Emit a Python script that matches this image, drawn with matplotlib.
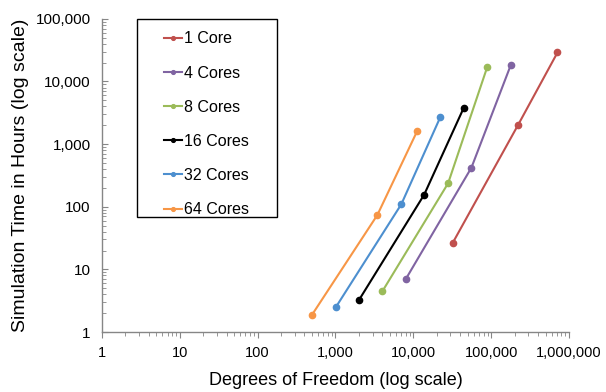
import numpy as np
import matplotlib.pyplot as plt
from matplotlib.patches import Rectangle
from matplotlib.ticker import FuncFormatter, LogLocator

plt.rcParams['font.family'] = ['Liberation Sans', 'DejaVu Sans']

# data (degrees of freedom, hours)
labels = ['1 Core', '4 Cores', '8 Cores', '16 Cores', '32 Cores', '64 Cores']
colors = ['#C0504D', '#8064A2', '#9BBB59', '#000000', '#4D8FCF', '#F79646']

dof_1 = [32200, 222000, 711000]
hrs_1 = [26.7, 2030, 29000]
dof_4 = [8010, 55800, 179000]
hrs_4 = [7.0, 421, 18400]
dof_8 = [4010, 28000, 88900]
hrs_8 = [4.47, 237, 16900]
dof_16 = [2010, 13800, 44600]
hrs_16 = [3.25, 156, 3830]
dof_32 = [1010, 7030, 22300]
hrs_32 = [2.48, 110, 2720]
dof_64 = [496, 3460, 11200]
hrs_64 = [1.85, 74, 1607]

xs = [dof_1, dof_4, dof_8, dof_16, dof_32, dof_64]
ys = [hrs_1, hrs_4, hrs_8, hrs_16, hrs_32, hrs_64]

fig = plt.figure(figsize=(6.06, 3.92), dpi=100)
ax = fig.add_axes([0.168, 0.153, 0.771, 0.799])

for x, y, c, lab in zip(xs, ys, colors, labels):
    ax.plot(x, y, color=c, marker='o', markersize=4.5, linewidth=1.5, label=lab)

ax.set_xscale('log')
ax.set_yscale('log')
ax.set_xlim(1, 1e6)
ax.set_ylim(1, 1e5)

fmt = FuncFormatter(lambda v, p: '{:,.0f}'.format(v))
ax.xaxis.set_major_locator(LogLocator(base=10, numticks=10))
ax.yaxis.set_major_locator(LogLocator(base=10, numticks=10))
ax.xaxis.set_minor_locator(LogLocator(base=10, subs=np.arange(2, 10), numticks=20))
ax.yaxis.set_minor_locator(LogLocator(base=10, subs=np.arange(2, 10), numticks=20))
ax.xaxis.set_major_formatter(fmt)
ax.yaxis.set_major_formatter(fmt)

for s in ['top', 'right']:
    ax.spines[s].set_visible(False)
for s in ['left', 'bottom']:
    ax.spines[s].set_color('#868686')
    ax.spines[s].set_linewidth(1)

ax.tick_params(axis='x', which='both', direction='out', color='#868686', labelsize=10.5, pad=6)
ax.tick_params(axis='y', which='both', direction='in', color='#868686', labelsize=11, pad=8)
ax.tick_params(which='major', length=4)
ax.tick_params(which='minor', length=3)

ax.set_xlabel('Degrees of Freedom (log scale)', fontsize=13, labelpad=9)
ax.set_ylabel('Simulation Time in Hours (log scale)', fontsize=14, labelpad=5)

# legend box drawn separately so the padding can be wider than tall
box = Rectangle((0.075, 0.367), 0.30, 0.633, transform=ax.transAxes,
                facecolor='white', edgecolor='black', linewidth=1.0,
                clip_on=False, zorder=3)
ax.add_patch(box)
leg = ax.legend(loc='upper left', bbox_to_anchor=(0.133, 0.960), fontsize=11.5,
                frameon=False, handlelength=1.13, markerscale=0.6,
                labelspacing=1.2, borderpad=0, handletextpad=0.15,
                borderaxespad=0)
leg.set_zorder(4)

plt.savefig('out.png', dpi=100)
